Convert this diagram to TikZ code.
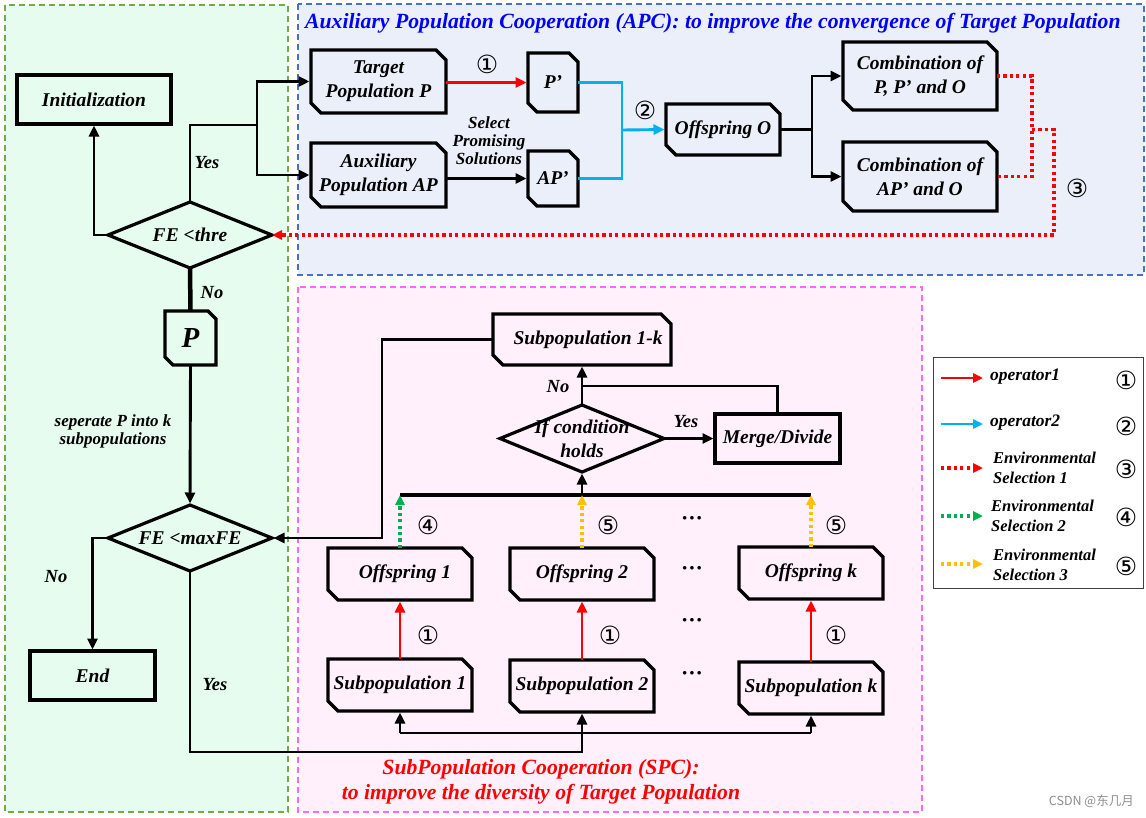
\documentclass[tikz,border=0pt]{standalone}
\usepackage{fontspec}
\setmainfont{Liberation Serif}
\newfontfamily\djv{DejaVu Sans}
\newfontfamily\cjkf{Noto Sans CJK SC}
\usetikzlibrary{arrows.meta,calc}
\definecolor{gfill}{RGB}{229,252,238}
\definecolor{gline}{RGB}{112,173,71}
\definecolor{bfill}{RGB}{234,239,249}
\definecolor{bline}{RGB}{68,114,196}
\definecolor{pfill}{RGB}{255,240,252}
\definecolor{pline}{RGB}{255,102,255}
\definecolor{opred}{RGB}{255,0,0}
\definecolor{opcyan}{RGB}{0,176,240}
\definecolor{esgreen}{RGB}{0,176,80}
\definecolor{esorange}{RGB}{255,192,0}
\definecolor{titleblue}{RGB}{0,0,255}
\newcommand\lab{\fontsize{19.5}{24}\selectfont\bfseries\itshape}
\newcommand\sml{\fontsize{17}{18}\selectfont\bfseries\itshape}
\newcommand\cnum[1]{{\djv\fontsize{25}{25}\selectfont #1}}
\newcommand\docframe[2][10]{\draw[boxline] (#2.north west) -- ([xshift=-#1pt]#2.north east) -- ([yshift=-#1pt]#2.north east) -- (#2.south east) -- ([xshift=#1pt]#2.south west) -- ([yshift=#1pt]#2.south west) -- cycle;}
\newcommand\diamframe[1]{\draw[boxline] (#1.north) -- (#1.east) -- (#1.south) -- (#1.west) -- cycle;}
\tikzset{
 boxline/.style={line width=3.2pt, line join=miter},
 area/.style={line width=1.4pt, dash pattern=on 6pt off 4pt},
 holder/.style={inner sep=0pt, outer sep=0pt, align=center, font=\lab},
 rectbox/.style={holder, draw, line width=3.2pt},
 conn/.style={line width=2.9pt},
 arr/.style={conn, -{Triangle[length=11pt,width=10pt]}, shorten >=1.5pt},
 dotl/.style={line width=3.2pt, dash pattern=on 3.2pt off 3.2pt},
 dtip/.style={-{Triangle[length=10pt,width=9pt]}},
 lbl/.style={font=\sml, align=center, inner sep=0pt},
 yn/.style={font=\fontsize{18.5}{18}\selectfont\bfseries\itshape, inner sep=0pt},
 cn/.style={inner sep=0pt},
 dots/.style={inner sep=0pt, font=\fontsize{22}{22}\selectfont\bfseries},
 legtext/.style={anchor=west, align=left, inner sep=0pt, font=\fontsize{16.5}{20}\selectfont\bfseries\itshape},
}
\begin{document}
\begin{tikzpicture}[x=1pt,y=-1pt]
\useasboundingbox (0,0) rectangle (1146,817);
% regions
\draw[area, draw=gline, fill=gfill] (5,5) rectangle (288,812);
\draw[area, draw=bline, fill=bfill] (298,4) rectangle (1144,275);
\draw[area, draw=pline, fill=pfill] (298,287) rectangle (922,812);
% titles
\node[anchor=west, font=\fontsize{21.7}{24}\selectfont\bfseries\itshape, text=titleblue, inner sep=0pt] (apct) at (305,23) {Auxiliary Population Cooperation (APC): to improve the convergence of Target Population};
\node[align=center, font=\fontsize{21.7}{25}\selectfont\bfseries\itshape, text=opred, inner sep=0pt] (spct) at (541,782) {SubPopulation Cooperation (SPC):\\to improve the diversity of Target Population};
% left column
\node[rectbox, fill=gfill, minimum width=154pt, minimum height=49pt] (init) at (94,99.5) {Initialization};
\node[holder, minimum width=164pt, minimum height=66pt] (fethre) at (190,235) {FE <thre};
\diamframe{fethre}
\node[holder, minimum width=51pt, minimum height=54pt, font=\fontsize{29}{29}\selectfont\bfseries\itshape] (pnode) at (190.5,338) {P};
\docframe[8]{pnode}
\node[holder, minimum width=164pt, minimum height=66pt] (femax) at (190,538) {FE <maxFE};
\diamframe{femax}
\node[rectbox, minimum width=125pt, minimum height=49pt] (endn) at (92.5,675.5) {End};
% APC nodes
\node[holder, minimum width=135pt, minimum height=63pt] (tp) at (378.5,81.5) {Target\\Population P};
\docframe{tp}
\node[holder, minimum width=135pt, minimum height=64pt] (ap) at (378.5,175) {Auxiliary\\Population AP};
\docframe{ap}
\node[holder, minimum width=50pt, minimum height=59pt] (pp) at (553,82.5) {P'};
\docframe[9]{pp}
\node[holder, minimum width=50pt, minimum height=55pt] (app) at (553,178.5) {AP'};
\docframe[9]{app}
\node[holder, minimum width=114pt, minimum height=51pt] (oo) at (723,129.5) {Offspring O};
\docframe{oo}
\node[holder, minimum width=154pt, minimum height=68pt] (c1) at (920,76) {Combination of\\P, P' and O};
\docframe{c1}
\node[holder, minimum width=154pt, minimum height=69pt] (c2) at (920,176.5) {Combination of\\AP' and O};
\docframe{c2}
% SPC nodes
\node[holder, minimum width=178pt, minimum height=51pt] (sub1k) at (582,339.5) {\hspace*{12pt}Subpopulation 1-k};
\docframe{sub1k}
\node[holder, minimum width=164pt, minimum height=67pt] (cond) at (582,438.5) {If condition\\holds};
\diamframe{cond}
\node[rectbox, minimum width=125pt, minimum height=49pt] (md) at (777.5,438.5) {Merge/Divide};
\node[holder, minimum width=144pt, minimum height=52pt] (of1) at (400,574) {\hspace*{10pt}Offspring 1};
\docframe{of1}
\node[holder, minimum width=144pt, minimum height=52pt] (of2) at (582,574) {Offspring 2};
\docframe{of2}
\node[holder, minimum width=144pt, minimum height=52pt] (ofk) at (811,573) {Offspring k};
\docframe{ofk}
\node[holder, minimum width=144pt, minimum height=52pt] (sp1) at (400,685) {Subpopulation 1};
\docframe{sp1}
\node[holder, minimum width=144pt, minimum height=52pt] (sp2) at (582,686) {Subpopulation 2};
\docframe{sp2}
\node[holder, minimum width=144pt, minimum height=52pt] (spk) at (811,688) {Subpopulation k};
\docframe{spk}
% left connectors
\draw[arr] (fethre.west) -| (init.south);
\coordinate (yj) at (257,125);
\draw[conn] (fethre.north) |- (yj);
\draw[arr] (yj) |- (tp.west);
\draw[arr] (yj) |- (ap.west);
\node[yn] (yes1) at (207,163) {Yes};
\draw[line width=4.5pt] (fethre.south) -- (pnode.north);
\node[yn] (no1) at (212,293) {No};
\draw[arr] (pnode.south) -- (femax.north);
\node[lbl] (sep) at (113,431) {seperate P into k\\subpopulations};
\draw[arr] (femax.west) -| (endn.north);
\node[yn] (no2) at (56,577) {No};
\coordinate (yb) at (190,752);
\draw[arr] (femax.south) -- (yb) -| (sp2.south);
\node[yn] (yes2) at (215,685) {Yes};
\coordinate (busL) at (400,733);
\coordinate (busR) at (811,733);
\draw[conn] (busL) -- (busR);
\draw[arr] (busL) -- (sp1.south);
\draw[arr] (busR) -- (spk.south);
% SPC connectors
\coordinate (lk) at (382,538);
\draw[arr] (sub1k.west) -| (lk) -- (femax.east);
\coordinate (barL) at (400,495);
\coordinate (barR) at (811,495);
\draw[line width=3.4pt] (barL) -- (barR);
\draw[arr] (cond.south |- barL) -- (cond.south);
\draw[arr] (cond.north) -- (sub1k.south);
\node[yn] (no3) at (558,387) {No};
\draw[arr] (cond.east) -- (md.west);
\node[yn] (yes3) at (686,422) {Yes};
\draw[conn] (md.north) |- (582,386);
\draw[dotl, draw=esgreen, dtip] (of1.north) -- (barL);
\draw[dotl, draw=esorange, dtip] (of2.north) -- (of2.north |- barL);
\draw[dotl, draw=esorange, dtip] (ofk.north) -- (barR);
\node[cn] (c4) at (428,525) {\cnum{④}};
\node[cn] (c5a) at (608,525) {\cnum{⑤}};
\node[cn] (c5b) at (836,525) {\cnum{⑤}};
\draw[arr, draw=opred, fill=opred] (sp1.north) -- (of1.south);
\draw[arr, draw=opred, fill=opred] (sp2.north) -- (of2.south);
\draw[arr, draw=opred, fill=opred] (spk.north) -- (ofk.south);
\node[cn] (c1a) at (428,635) {\cnum{①}};
\node[cn] (c1b) at (610,635) {\cnum{①}};
\node[cn] (c1c) at (836,635) {\cnum{①}};
\node[dots] (d1) at (692,521) {···};
\node[dots] (d2) at (692,571) {···};
\node[dots] (d3) at (692,623) {···};
\node[dots] (d4) at (692,676) {···};
% APC connectors
\draw[arr, draw=opred, fill=opred] (tp.east |- pp.west) -- (pp.west);
\node[cn] (c1t) at (487,64) {\cnum{①}};
\draw[arr] (ap.east |- app.west) -- (app.west);
\node[lbl] (sel) at (489,141) {Select\\Promising\\Solutions};
\coordinate (cj) at (622,130);
\draw[conn, draw=opcyan] (pp.east) -| (cj);
\draw[conn, draw=opcyan] (app.east) -| (cj);
\draw[arr, draw=opcyan, fill=opcyan] (cj) -- (oo.west);
\node[cn] (c2t) at (645,110) {\cnum{②}};
\coordinate (oj) at (812,129.5);
\draw[conn] (oo.east) -- (oj);
\draw[arr] (oj) |- (c1.west);
\draw[arr] (oj) |- (c2.west);
\coordinate (rj) at (1032,129.5);
\coordinate (rk) at (1054,129.5);
\draw[dotl, draw=opred] (c1.east) -| (rj) |- (c2.east);
\draw[dotl, draw=opred, dtip] (rj) -- (rk) |- (fethre.east);
\node[cn] (c3t) at (1077,188) {\cnum{③}};
% legend
\node[draw=black!75, line width=1pt, minimum width=210pt, minimum height=231pt, inner sep=0pt] (legend) at (1038,472.5) {};
\coordinate (la1) at (941,378); \coordinate (lb1) at (983,378);
\coordinate (la2) at (941,424); \coordinate (lb2) at (983,424);
\coordinate (la3) at (941,468); \coordinate (lb3) at (983,468);
\coordinate (la4) at (941,516); \coordinate (lb4) at (983,516);
\coordinate (la5) at (941,564); \coordinate (lb5) at (983,564);
\draw[conn, draw=opred, dtip] (la1) -- (lb1);
\draw[conn, draw=opcyan, dtip] (la2) -- (lb2);
\draw[dotl, draw=opred, dtip] (la3) -- (lb3);
\draw[dotl, draw=esgreen, dtip] (la4) -- (lb4);
\draw[dotl, draw=esorange, dtip] (la5) -- (lb5);
\node[legtext, font=\fontsize{17.5}{20}\selectfont\bfseries\itshape] (lt1) at (990,377) {operator1};
\node[legtext, font=\fontsize{17.5}{20}\selectfont\bfseries\itshape] (lt2) at (990,423) {operator2};
\node[legtext] (lt3) at (993,468) {Environmental\\Selection 1};
\node[legtext] (lt4) at (991,516) {Environmental\\Selection 2};
\node[legtext] (lt5) at (993,565) {Environmental\\Selection 3};
\node[cn] (lc1) at (1126,380) {\cnum{①}};
\node[cn] (lc2) at (1126,426) {\cnum{②}};
\node[cn] (lc3) at (1126,469) {\cnum{③}};
\node[cn] (lc4) at (1126,517) {\cnum{④}};
\node[cn] (lc5) at (1126,566) {\cnum{⑤}};
% watermark
\node[anchor=east, inner sep=0pt, text=black!45, font=\cjkf\fontsize{12.5}{13}\selectfont] (wm) at (1134,801) {CSDN @东几月};
\end{tikzpicture}
\end{document}
